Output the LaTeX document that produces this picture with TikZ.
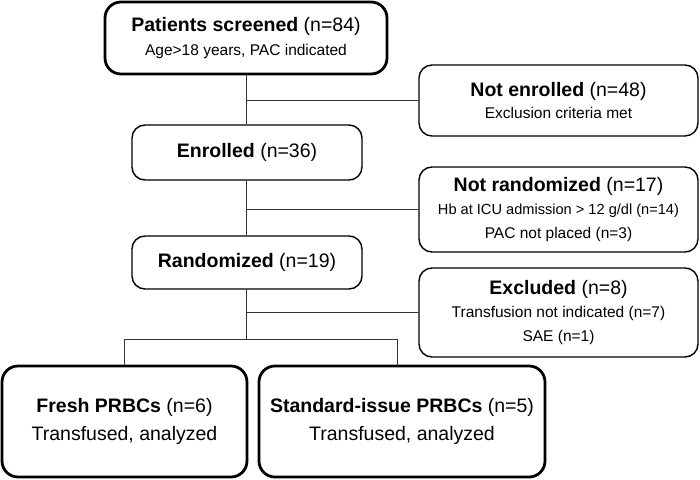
\documentclass[tikz,border=0pt]{standalone}
\usepackage{fontspec}
\setmainfont{Liberation Sans}
\newcommand\ttl[1]{{\fontsize{19.5}{22}\selectfont #1}}
\begin{document}
\begin{tikzpicture}[x=1pt,y=-1pt,
  thinbox/.style={draw=black, line width=1.4pt, rounded corners=13pt, inner sep=0pt, align=center,
    font=\fontsize{15.5}{22}\selectfont},
  thickbox/.style={draw=black, line width=2.8pt, rounded corners=16pt, inner sep=0pt, align=center},
  conn/.style={draw=black!80, line width=0.9pt}]
\useasboundingbox (0,0) rectangle (700,479);

\node[thickbox, minimum width=282pt, minimum height=72pt, font=\fontsize{15.5}{23.5}\selectfont]
  (screened) at (246,38) {\ttl{\textbf{Patients screened} (n=84)}\\Age>18 years, PAC indicated};
\node[thinbox, minimum width=279pt, minimum height=71pt]
  (notenr) at (558.5,100.5) {\ttl{\textbf{Not enrolled} (n=48)}\\Exclusion criteria met};
\node[thinbox, minimum width=230pt, minimum height=55pt]
  (enrolled) at (247,152.5) {\ttl{\textbf{Enrolled} (n=36)}};
\node[thinbox, minimum width=279pt, minimum height=85pt, font=\fontsize{15.5}{23.2}\selectfont]
  (notrand) at (558.5,209.5) {\ttl{\textbf{Not randomized} (n=17)}\\{\fontsize{14.6}{23.2}\selectfont Hb at ICU admission > 12 g/dl (n=14)}\\PAC not placed (n=3)};
\node[thinbox, minimum width=230pt, minimum height=53pt]
  (rand) at (247,262.5) {\ttl{\textbf{Randomized} (n=19)}};
\node[thinbox, minimum width=279pt, minimum height=89pt, font=\fontsize{15.5}{23.5}\selectfont]
  (excl) at (558.5,312.5) {\ttl{\textbf{Excluded} (n=8)}\\Transfusion not indicated (n=7)\\SAE (n=1)};
\node[thickbox, minimum width=245pt, minimum height=111pt, font=\fontsize{19.5}{28}\selectfont]
  (fresh) at (124.5,421.5) {\textbf{Fresh PRBCs} (n=6)\\Transfused, analyzed};
\node[thickbox, minimum width=286pt, minimum height=111pt, font=\fontsize{19.5}{28}\selectfont]
  (std) at (402,421.5) {\textbf{Standard-issue PRBCs} (n=5)\\Transfused, analyzed};

\coordinate (split) at (246,339);
\coordinate (stdtop) at (397,366);

\draw[conn] (screened.south) -- (screened.south |- enrolled.north);
\draw[conn] (screened.south |- notenr.west) -- (notenr.west);
\draw[conn] (screened.south |- enrolled.south) -- (screened.south |- rand.north);
\draw[conn] (screened.south |- notrand.west) -- (notrand.west);
\draw[conn] (screened.south |- rand.south) -- (split);
\draw[conn] (split |- excl.west) -- (excl.west);
\draw[conn] (fresh.north) |- (split -| stdtop) -- (stdtop);
\end{tikzpicture}
\end{document}
